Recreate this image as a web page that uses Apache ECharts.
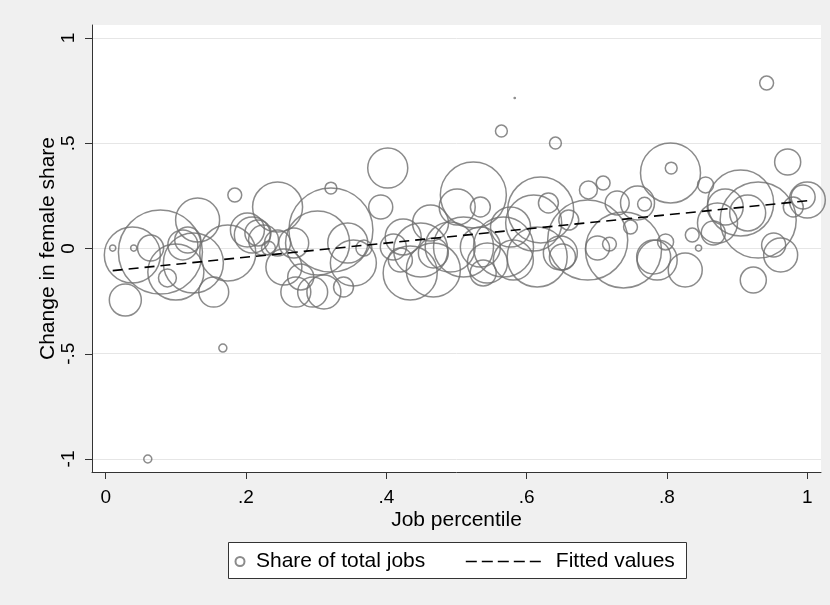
<!DOCTYPE html>
<html>
<head>
<meta charset="utf-8">
<script src="https://cdn.jsdelivr.net/npm/echarts@6/dist/echarts.min.js"></script>
<style>
html,body{margin:0;padding:0;background:#f0f0f0;}
#chart{width:830px;height:605px;}
</style>
</head>
<body>
<div id="chart"></div>
<script>
// Job percentile (x)
const jobX = [0.010,0.040,0.028,0.060,0.038,0.078,0.064,0.088,0.100,0.110,
  0.131,0.117,0.125,0.154,0.174,0.184,0.167,0.202,0.209,0.217,
  0.225,0.232,0.245,0.245,0.268,0.254,0.271,0.295,0.311,0.278,
  0.321,0.321,0.302,0.339,0.353,0.345,0.368,0.402,0.392,0.424,
  0.410,0.449,0.467,0.434,0.467,0.463,0.420,0.491,0.510,0.524,
  0.501,0.534,0.534,0.544,0.538,0.564,0.577,0.581,0.610,0.620,
  0.631,0.615,0.641,0.660,0.651,0.687,0.688,0.709,0.701,0.718,
  0.729,0.758,0.768,0.748,0.738,0.781,0.798,0.826,0.805,0.806,
  0.836,0.845,0.855,0.905,0.930,0.883,0.915,0.872,0.866,0.952,
  0.962,0.923,0.942,0.972,1.000,0.994,0.980,0.786,0.583,0.648,0.567];
// Change in female share (y)
const femaleChange = [0.002,0.002,-0.245,-1.000,-0.031,-0.017,0.002,-0.140,-0.112,0.017,
  0.135,0.040,-0.069,-0.207,-0.021,0.254,-0.473,0.088,0.064,0.074,
  0.040,0.002,0.197,0.026,0.026,-0.088,-0.207,-0.207,-0.207,-0.135,
  0.287,0.088,0.026,-0.183,-0.069,0.026,0.002,0.382,0.197,0.055,
  0.007,-0.007,-0.021,-0.116,-0.102,0.121,-0.055,0.007,0.007,0.254,
  0.197,0.197,0.007,-0.069,-0.116,0.558,0.102,-0.055,0.121,0.183,
  0.216,-0.040,0.501,0.135,-0.040,0.040,0.278,0.311,0.002,0.021,
  0.216,0.216,0.211,0.102,-0.007,-0.040,0.031,-0.102,0.359,0.382,
  0.064,0.002,0.302,0.216,0.135,0.197,0.169,0.121,0.074,0.017,
  -0.031,-0.150,0.786,0.411,0.230,0.245,0.197,-0.055,0.715,-0.021,0.007];
// Share of total jobs (%), bubble weight
const jobShare = [0.03,0.03,0.80,0.05,2.45,5.51,0.53,0.25,2.45,0.70,
  1.51,0.53,2.81,0.70,2.45,0.15,0.05,0.90,1.01,0.53,
  0.70,0.15,1.95,0.53,0.70,1.01,0.70,0.70,0.90,0.53,
  0.11,5.51,3.20,0.31,1.65,1.25,0.20,1.25,0.45,1.01,
  0.53,2.28,0.70,2.28,2.28,1.01,0.45,1.95,2.81,3.40,
  1.01,0.31,1.25,1.25,0.53,0.11,1.25,1.25,2.45,3.40,
  0.31,2.81,0.11,0.31,0.53,5.00,0.25,0.15,0.45,0.15,
  0.45,0.90,0.15,0.15,4.51,0.90,0.20,0.90,2.81,0.11,
  0.15,0.03,0.20,3.40,4.51,1.01,1.01,1.25,0.45,0.45,
  0.90,0.53,0.15,0.53,1.01,0.45,0.31,1.25,0.001,0.90,2.81];
// Fitted values (linear fit endpoints)
const fitX = [0.01, 1.0];
const fitY = [-0.105, 0.227];
// Tick labels
const xTicks = [0, 0.2, 0.4, 0.6, 0.8, 1];
const yTicks = [-1, -0.5, 0, 0.5, 1];

const fmt = v => {
  let s = String(Math.round(v * 100) / 100);
  return s.replace(/^0\./, '.').replace(/^-0\./, '-.');
};

const bubbles = jobX.map((x, i) => [x, femaleChange[i], jobShare[i]]);
const fitted = fitX.map((x, i) => [x, fitY[i]]);

const font = '"Liberation Sans", Arial, sans-serif';
const hidden = { show: false };
const chart = echarts.init(document.getElementById('chart'));
chart.setOption({
  backgroundColor: '#f0f0f0',
  animation: false,
  textStyle: { fontFamily: font },
  grid: [
    // plot region
    { left: 92, right: 9, top: 25, bottom: 133, show: true, backgroundColor: '#ffffff', borderWidth: 0 },
    // x tick scale: 0..1
    { left: 105.7, right: 22.8, top: 25, bottom: 133, show: false },
    // y tick scale: -1..1
    { left: 92, right: 9, top: 38, bottom: 146, show: false }
  ],
  xAxis: [
    {
      gridIndex: 0, type: 'value', min: -0.0195, max: 1.0195,
      name: 'Job percentile', nameLocation: 'middle', nameGap: 38,
      nameTextStyle: { fontSize: 21, color: '#000', fontFamily: font },
      axisLine: { show: true, onZero: false, lineStyle: { color: '#333', width: 1 } },
      axisTick: hidden, axisLabel: hidden, splitLine: hidden
    },
    {
      gridIndex: 1, type: 'value', min: xTicks[0], max: xTicks[xTicks.length - 1], interval: 0.2,
      axisLine: { show: false, onZero: false },
      axisTick: { show: true, length: 7, lineStyle: { color: '#333', width: 1 } },
      axisLabel: { formatter: fmt, fontSize: 19, color: '#000', margin: 16, fontFamily: font },
      splitLine: hidden
    },
    { gridIndex: 2, type: 'value', min: 0, max: 1, show: false }
  ],
  yAxis: [
    {
      gridIndex: 0, type: 'value', min: -1.0618, max: 1.0618,
      name: 'Change in female share', nameLocation: 'middle', nameGap: 33,
      nameTextStyle: { fontSize: 21, color: '#000', fontFamily: font },
      axisLine: { show: true, onZero: false, lineStyle: { color: '#333', width: 1 } },
      axisTick: hidden, axisLabel: hidden, splitLine: hidden
    },
    { gridIndex: 1, type: 'value', min: -1, max: 1, show: false },
    {
      gridIndex: 2, type: 'value', min: yTicks[0], max: yTicks[yTicks.length - 1], interval: 0.5,
      axisLine: { show: false, onZero: false },
      axisTick: { show: true, length: 7, lineStyle: { color: '#333', width: 1 } },
      axisLabel: { formatter: fmt, rotate: 90, fontSize: 19, color: '#000', margin: 14, fontFamily: font },
      splitLine: hidden
    }
  ],
  legend: [
    { left: 229.5, top: 546, itemWidth: 22, itemHeight: 9, itemGap: 0, data: ['Share of total jobs'],
      textStyle: { fontSize: 21, color: '#000', fontFamily: font }, z: 5 },
    { left: 460, top: 546, itemWidth: 75, itemHeight: 14, data: ['Fitted values'],
      itemStyle: { opacity: 0 },
      lineStyle: { color: '#000', width: 1.6, type: [11, 5] },
      textStyle: { fontSize: 21, color: '#000', fontFamily: font, padding: [0, 0, 0, 10] }, z: 5 }
  ],
  graphic: [
    { type: 'rect', left: 228, top: 542, shape: { width: 458, height: 36 },
      style: { fill: '#ffffff', stroke: '#333', lineWidth: 1 }, z: 1 }
  ],
  series: [
    {
      name: 'Share of total jobs', type: 'scatter', data: bubbles,
      xAxisIndex: 0, yAxisIndex: 0,
      symbol: 'circle',
      symbolSize: v => Math.max(1.2, 35.8 * Math.sqrt(v[2])),
      itemStyle: { color: 'rgba(0,0,0,0)', borderColor: '#6e6e6e', borderWidth: 1.5 },
      emphasis: { disabled: true },
      markLine: {
        silent: true, symbol: 'none', label: { show: false },
        lineStyle: { color: '#e6e6e6', width: 1, type: 'solid' },
        data: yTicks.map(v => ({ yAxis: v })),
        z: 0
      },
      z: 3
    },
    {
      name: 'Fitted values', type: 'line', data: fitted,
      xAxisIndex: 0, yAxisIndex: 0,
      symbol: 'none', showSymbol: false,
      lineStyle: { color: '#000', width: 1.6, type: [10, 6] },
      emphasis: { disabled: true },
      z: 4
    }
  ]
});
</script>
</body>
</html>
